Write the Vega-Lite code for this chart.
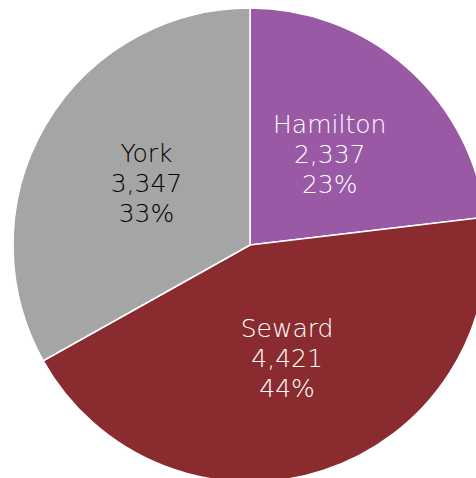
{
  "$schema": "https://vega.github.io/schema/vega-lite/v6.json",
  "width": 476,
  "height": 478,
  "autosize": "none",
  "padding": 0,
  "background": "white",
  "view": {"stroke": null},
  "data": {
    "values": [
      {"county": "Hamilton", "value": 2337, "pct": "23%"},
      {"county": "Seward", "value": 4421, "pct": "44%"},
      {"county": "York", "value": 3347, "pct": "33%"}
    ]
  },
  "encoding": {
    "theta": {"field": "value", "type": "quantitative", "stack": true},
    "order": {"field": "county", "type": "nominal", "sort": "ascending"}
  },
  "layer": [
    {
      "mark": {"type": "arc", "x": 250, "y": 245, "radius": 237, "stroke": "white", "strokeWidth": 1.5},
      "encoding": {
        "color": {
          "field": "county", "type": "nominal", "legend": null,
          "scale": {"domain": ["Hamilton", "Seward", "York"], "range": ["#9A59A5", "#8A2B30", "#A5A5A5"]}
        }
      }
    },
    {
      "mark": {"type": "text", "x": 250, "y": 245, "radius": 120, "dy": -30, "font": "DejaVu Sans", "fontSize": 25, "fontWeight": 200},
      "encoding": {
        "detail": {"field": "county", "type": "nominal"},
        "text": {"field": "county", "type": "nominal"},
        "color": {"condition": {"test": "datum.county === 'York'", "value": "#000000"}, "value": "white"}
      }
    },
    {
      "mark": {"type": "text", "x": 250, "y": 245, "radius": 120, "dy": 0, "font": "DejaVu Sans", "fontSize": 25, "fontWeight": 200},
      "encoding": {
        "detail": {"field": "county", "type": "nominal"},
        "text": {"field": "value", "type": "quantitative", "format": ","},
        "color": {"condition": {"test": "datum.county === 'York'", "value": "#000000"}, "value": "white"}
      }
    },
    {
      "mark": {"type": "text", "x": 250, "y": 245, "radius": 120, "dy": 30, "font": "DejaVu Sans", "fontSize": 25, "fontWeight": 200},
      "encoding": {
        "detail": {"field": "county", "type": "nominal"},
        "text": {"field": "pct", "type": "nominal"},
        "color": {"condition": {"test": "datum.county === 'York'", "value": "#000000"}, "value": "white"}
      }
    }
  ]
}
